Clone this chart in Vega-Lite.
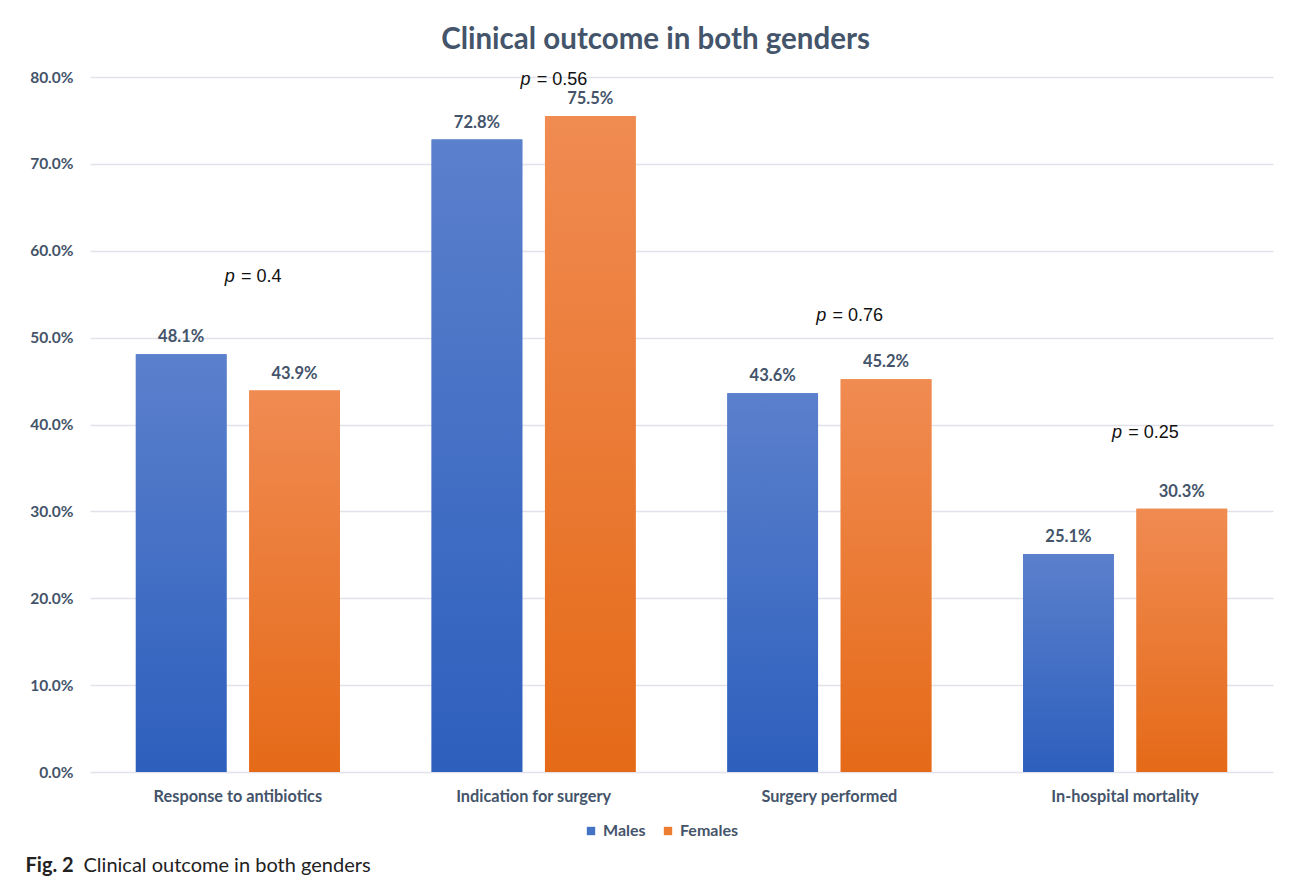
{
  "$schema": "https://vega.github.io/schema/vega-lite/v6.json",
  "autosize": {"type": "none"},
  "width": 1183,
  "height": 695,
  "padding": {"left": 90, "top": 77, "right": 19, "bottom": 111},
  "background": "white",
  "title": {
    "text": "Clinical outcome in both genders",
    "font": "Lato",
    "fontSize": 29.5,
    "fontWeight": "bold",
    "color": "#44546a",
    "anchor": "middle",
    "offset": 15,
    "dx": -26
  },
  "datasets": {
    "bars": [
      {"category": "Response to antibiotics", "gender": "Males", "value": 0.481},
      {"category": "Response to antibiotics", "gender": "Females", "value": 0.439},
      {"category": "Indication for surgery", "gender": "Males", "value": 0.728},
      {"category": "Indication for surgery", "gender": "Females", "value": 0.755},
      {"category": "Surgery performed", "gender": "Males", "value": 0.436},
      {"category": "Surgery performed", "gender": "Females", "value": 0.452},
      {"category": "In-hospital mortality", "gender": "Males", "value": 0.251},
      {"category": "In-hospital mortality", "gender": "Females", "value": 0.303}
    ],
    "pvalues": [
      {"category": "Response to antibiotics", "rest": "= 0.4", "py": 0.570},
      {"category": "Indication for surgery", "rest": "= 0.56", "py": 0.7965},
      {"category": "Surgery performed", "rest": "= 0.76", "py": 0.525},
      {"category": "In-hospital mortality", "rest": "= 0.25", "py": 0.390}
    ]
  },
  "layer": [
    {
      "data": {"name": "bars"},
      "mark": {"type": "bar"},
      "encoding": {
        "xOffset": {
          "field": "gender",
          "type": "nominal",
          "scale": {"domain": ["Males", "Females"], "paddingInner": 0.2, "paddingOuter": 0}
        },
        "y": {"field": "value", "type": "quantitative"},
        "color": {
          "field": "gender",
          "type": "nominal",
          "scale": {"domain": ["Males", "Females"], "range": ["#4472c4", "#ed7d31"]},
          "legend": {
            "orient": "none",
            "legendX": 493,
            "legendY": 746,
            "direction": "horizontal",
            "title": null,
            "symbolType": "square",
            "symbolSize": 70,
            "symbolStrokeWidth": 0,
            "labelFont": "Lato",
            "labelFontSize": 16,
            "labelFontWeight": "bold",
            "labelColor": "#44546a",
            "columnPadding": 14
          }
        }
      }
    },
    {
      "data": {"name": "bars"},
      "transform": [{"filter": "datum.gender === 'Males'"}],
      "mark": {
        "type": "bar",
        "color": {
          "gradient": "linear", "x1": 0, "y1": 0, "x2": 0, "y2": 1,
          "stops": [{"offset": 0, "color": "#5b80cc"}, {"offset": 1, "color": "#2d5fbd"}]
        }
      },
      "encoding": {
        "xOffset": {"field": "gender", "type": "nominal"},
        "y": {"field": "value", "type": "quantitative"}
      }
    },
    {
      "data": {"name": "bars"},
      "transform": [{"filter": "datum.gender === 'Females'"}],
      "mark": {
        "type": "bar",
        "color": {
          "gradient": "linear", "x1": 0, "y1": 0, "x2": 0, "y2": 1,
          "stops": [{"offset": 0, "color": "#f08b52"}, {"offset": 1, "color": "#e56a18"}]
        }
      },
      "encoding": {
        "xOffset": {"field": "gender", "type": "nominal"},
        "y": {"field": "value", "type": "quantitative"}
      }
    },
    {
      "data": {"name": "bars"},
      "mark": {
        "type": "text",
        "font": "Lato",
        "fontSize": 16.5,
        "fontWeight": "bold",
        "color": "#44546a",
        "baseline": "middle",
        "dy": -17
      },
      "encoding": {
        "xOffset": {"field": "gender", "type": "nominal"},
        "y": {"field": "value", "type": "quantitative"},
        "text": {"field": "value", "type": "quantitative", "format": ".1%"}
      }
    },
    {
      "data": {"name": "pvalues"},
      "mark": {
        "type": "text",
        "text": "p",
        "font": "Liberation Sans",
        "fontSize": 18,
        "fontStyle": "italic",
        "color": "#111111",
        "align": "right",
        "baseline": "middle",
        "dx": -3
      },
      "encoding": {
        "y": {"field": "py", "type": "quantitative"}
      }
    },
    {
      "data": {"name": "pvalues"},
      "mark": {
        "type": "text",
        "font": "Liberation Sans",
        "fontSize": 18,
        "color": "#111111",
        "align": "left",
        "baseline": "middle",
        "dx": 3
      },
      "encoding": {
        "y": {"field": "py", "type": "quantitative"},
        "text": {"field": "rest", "type": "nominal"}
      }
    }
  ],
  "encoding": {
    "x": {
      "field": "category",
      "type": "nominal",
      "scale": {
        "domain": ["Response to antibiotics", "Indication for surgery", "Surgery performed", "In-hospital mortality"],
        "paddingInner": 0.31,
        "paddingOuter": 0.155
      },
      "axis": {
        "labelAngle": 0,
        "ticks": false,
        "domain": false,
        "labelPadding": 16,
        "labelFont": "Lato",
        "labelFontSize": 16.3,
        "labelFontWeight": "bold",
        "labelColor": "#44546a",
        "title": "Fig. 2",
        "titleFont": "Lato",
        "titleFontSize": 20,
        "titleFontWeight": "bold",
        "titleColor": "#222222",
        "titleAlign": "left",
        "titleBaseline": "middle",
        "titleX": -65,
        "titleY": 93
      }
    },
    "y": {
      "field": "value",
      "type": "quantitative",
      "scale": {"domain": [0, 0.8], "nice": false, "zero": true},
      "axis": {
        "values": [0, 0.1, 0.2, 0.3, 0.4, 0.5, 0.6, 0.7, 0.8],
        "format": ".1%",
        "grid": true,
        "gridColor": "#e2e2ea",
        "gridWidth": 1.5,
        "ticks": false,
        "domain": false,
        "labelPadding": 17,
        "labelFont": "Lato",
        "labelFontSize": 15.5,
        "labelFontWeight": "bold",
        "labelColor": "#44546a",
        "title": "Clinical outcome in both genders",
        "titleFont": "Lato",
        "titleFontSize": 20,
        "titleFontWeight": "normal",
        "titleColor": "#222222",
        "titleAngle": 0,
        "titleAlign": "left",
        "titleBaseline": "middle",
        "titleX": -7,
        "titleY": 788
      }
    }
  },
  "config": {
    "view": {"stroke": null}
  }
}
